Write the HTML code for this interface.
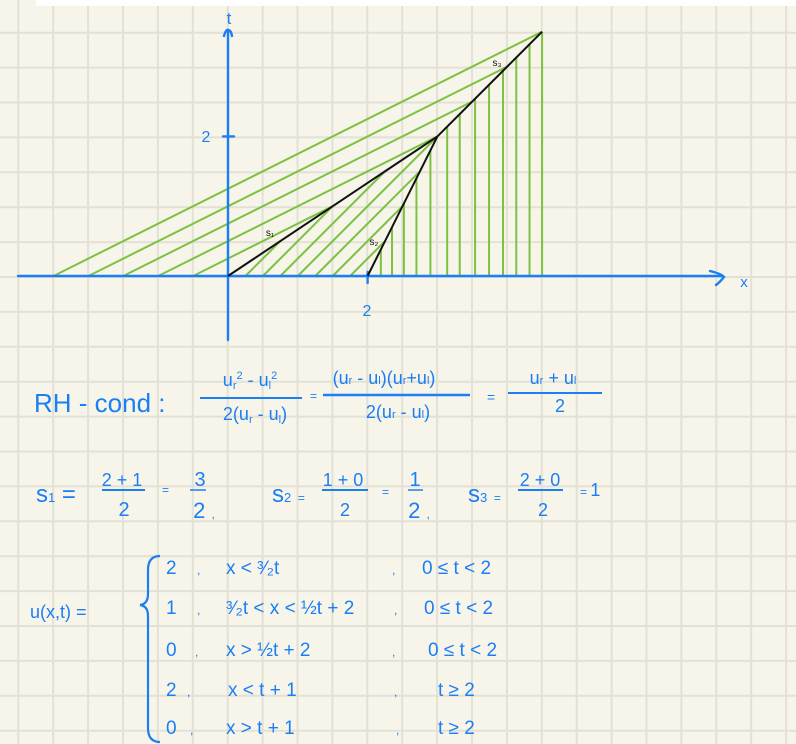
<!DOCTYPE html>
<html><head><meta charset="utf-8"><style>
html,body{margin:0;padding:0;background:#f7f5ea;}
#wrap{position:relative;width:796px;height:744px;overflow:hidden;}
svg text{font-family:"Liberation Sans",sans-serif;fill:#1a7ef5;}
</style></head><body>
<div id="wrap">
<svg id="svg" width="796" height="744" viewBox="0 0 796 744">
<g id="grid"></g>
<rect x="36" y="0" width="760" height="6" fill="#ffffff"/>
<g id="chars"></g>
<g id="axes"></g>
<g id="shocks"></g>
<g id="labels"></g>
<g id="eq" font-size="18">
 <text x="34" y="412" font-size="26">RH - cond :</text>
 <text x="250" y="386" text-anchor="middle">u<tspan font-size="11" dy="3">r</tspan><tspan font-size="11" dy="-10">2</tspan><tspan dy="7"> - u</tspan><tspan font-size="11" dy="3">l</tspan><tspan font-size="11" dy="-10">2</tspan></text>
 <line x1="200" y1="398" x2="302" y2="398" stroke="#1a7ef5" stroke-width="2"/>
 <text x="255" y="420" text-anchor="middle">2(u<tspan font-size="11" dy="3">r</tspan><tspan dy="-3"> - u</tspan><tspan font-size="11" dy="3">l</tspan><tspan dy="-3">)</tspan></text>
 <text x="310" y="400" font-size="12">=</text>
 <text x="384" y="384" text-anchor="middle">(u<tspan font-size="11">r</tspan> - u<tspan font-size="11">l</tspan>)(u<tspan font-size="11">r</tspan>+u<tspan font-size="11">l</tspan>)</text>
 <line x1="323" y1="395" x2="470" y2="395" stroke="#1a7ef5" stroke-width="2.5"/>
 <text x="398" y="418" text-anchor="middle">2(u<tspan font-size="11">r</tspan> - u<tspan font-size="11">l</tspan>)</text>
 <text x="487" y="402" font-size="14">=</text>
 <text x="553" y="384" text-anchor="middle">u<tspan font-size="11">r</tspan> + u<tspan font-size="11">l</tspan></text>
 <line x1="508" y1="393" x2="602" y2="393" stroke="#1a7ef5" stroke-width="2"/>
 <text x="560" y="412" text-anchor="middle">2</text>

 <text x="36" y="502" font-size="24">s<tspan font-size="13">1</tspan> =</text>
 <text x="122" y="486" text-anchor="middle">2 + 1</text>
 <line x1="102" y1="490" x2="145" y2="490" stroke="#1a7ef5" stroke-width="2"/>
 <text x="124" y="516" text-anchor="middle" font-size="20">2</text>
 <text x="162" y="494" font-size="12">=</text>
 <text x="200" y="486" text-anchor="middle" font-size="20">3</text>
 <line x1="190" y1="490" x2="206" y2="490" stroke="#1a7ef5" stroke-width="1.5"/>
 <text x="204" y="518" text-anchor="middle" font-size="22">2 <tspan font-size="12">,</tspan></text>
 <text x="272" y="502" font-size="24">s<tspan font-size="13">2</tspan> <tspan font-size="12">=</tspan></text>
 <text x="343" y="486" text-anchor="middle">1 + 0</text>
 <line x1="322" y1="490" x2="368" y2="490" stroke="#1a7ef5" stroke-width="2"/>
 <text x="345" y="516" text-anchor="middle">2</text>
 <text x="382" y="496" font-size="12">=</text>
 <text x="415" y="486" text-anchor="middle" font-size="20">1</text>
 <line x1="408" y1="490" x2="423" y2="490" stroke="#1a7ef5" stroke-width="1.5"/>
 <text x="419" y="518" text-anchor="middle" font-size="22">2 <tspan font-size="12">,</tspan></text>
 <text x="468" y="502" font-size="24">s<tspan font-size="13">3</tspan> <tspan font-size="12">=</tspan></text>
 <text x="540" y="486" text-anchor="middle">2 + 0</text>
 <line x1="518" y1="490" x2="563" y2="490" stroke="#1a7ef5" stroke-width="2"/>
 <text x="543" y="516" text-anchor="middle">2</text>
 <text x="580" y="496" font-size="12">=  <tspan font-size="18">1</tspan></text>

 <text x="30" y="618">u(x,t) =</text>
 <path d="M160 556 Q148 556 148 570 L148 594 Q148 604 140 605 Q148 606 148 616 L148 728 Q148 742 160 742" fill="none" stroke="#1a7ef5" stroke-width="2.2"/>
 <g font-size="19">
  <text x="166" y="574">2   <tspan x="197" font-size="12">,</tspan><tspan x="226">x &lt; ³⁄₂t</tspan><tspan x="392" font-size="12">,</tspan><tspan x="422">0 ≤ t &lt; 2</tspan></text>
  <text x="166" y="614">1<tspan x="197" font-size="12">,</tspan><tspan x="226">³⁄₂t &lt; x &lt; ½t + 2</tspan><tspan x="394" font-size="12">,</tspan><tspan x="424">0 ≤ t &lt; 2</tspan></text>
  <text x="166" y="656">0<tspan x="195" font-size="12">,</tspan><tspan x="226">x &gt; ½t + 2</tspan><tspan x="392" font-size="12">,</tspan><tspan x="428">0 ≤ t &lt; 2</tspan></text>
  <text x="166" y="696">2<tspan x="187" font-size="12">,</tspan><tspan x="228">x &lt; t + 1</tspan><tspan x="394" font-size="12">,</tspan><tspan x="438">t ≥ 2</tspan></text>
  <text x="166" y="734">0<tspan x="190" font-size="12">,</tspan><tspan x="226">x &gt; t + 1</tspan><tspan x="396" font-size="12">,</tspan><tspan x="438">t ≥ 2</tspan></text>
 </g>
</g>
</svg>
</div>
<script>
// data (in x,t units)
const leftStarts = [-2.5, -2, -1.5, -1, -0.5];     // u=2 characteristics
const fanStarts = [0.25, 0.5, 0.75, 1.0, 1.25, 1.5, 1.75]; // u=1 characteristics
const rightStarts = [2.19, 2.35, 2.52, 2.7, 2.9, 3.14, 3.32, 3.54, 3.74, 3.94, 4.13, 4.32, 4.5]; // u=0
const shockS1 = [[0,0],[3,2]];
const shockS2 = [[2,0],[3,2]];
const shockS3 = [[3,2],[4.5,3.5]];
const tEnd = 3.5;

const NS='http://www.w3.org/2000/svg';
const OX=228, OY=276, SC=69.8;
const X=v=>OX+v*SC, Y=v=>OY-v*SC;
function mk(tag,attrs,parent){const e=document.createElementNS(NS,tag);for(const k in attrs)e.setAttribute(k,attrs[k]);parent.appendChild(e);return e;}

// grid
const g=document.getElementById('grid');
for(let x=18.3-34.9;x<800;x+=34.9){const l=mk('line',{x1:x,y1:0,x2:x,y2:744,stroke:'#e3e1d5','stroke-width':2},g);

}
for(let y=32.7-34.9;y<750;y+=34.9){const l=mk('line',{x1:0,y1:y,x2:796,y2:y,stroke:'#e3e1d5','stroke-width':2},g);

}

// characteristics
const c=document.getElementById('chars');
const green={stroke:'#7cc142','stroke-width':2};
leftStarts.forEach(x0=>{
  let t=-x0*2;
  if(t>2){t=1-x0;}
  if(t>tEnd)t=tEnd;
  const l=mk('line',Object.assign({x1:X(x0),y1:Y(0),x2:X(x0+2*t),y2:Y(t)},green),c);
  
  
});
fanStarts.forEach(x0=>{
  let t = x0<=1 ? 2*x0 : 2*(2-x0);
  const l=mk('line',Object.assign({x1:X(x0),y1:Y(0),x2:X(x0+t),y2:Y(t)},green),c);
  
  
});
rightStarts.forEach(x0=>{
  let t = x0<3 ? 2*(x0-2) : x0-1;
  if(t>tEnd)t=tEnd;
  const l=mk('line',Object.assign({x1:X(x0),y1:Y(0),x2:X(x0),y2:Y(t)},green),c);
  
  
});

// axes
const a=document.getElementById('axes');
const blue={stroke:'#1a7ef5','stroke-width':2.4,fill:'none','stroke-linecap':'round'};
let e;
e=mk('line',Object.assign({x1:18,y1:OY,x2:722,y2:OY},blue),a);


e=mk('path',Object.assign({d:'M710 271 Q722 274 724 277 Q720 282 716 285'},blue),a);


e=mk('line',Object.assign({x1:OX,y1:30,x2:OX,y2:340},blue),a);


e=mk('path',Object.assign({d:'M224 36 Q226 29 228 30 Q231 30 232 36'},blue),a);


e=mk('line',Object.assign({x1:223,y1:Y(2),x2:234,y2:Y(2)},blue),a);


e=mk('line',Object.assign({x1:X(2),y1:272,x2:X(2),y2:283},blue),a);



// shocks
const s=document.getElementById('shocks');
[shockS1,shockS2,shockS3].forEach((sh,i)=>{
  const l=mk('line',{x1:X(sh[0][0]),y1:Y(sh[0][1]),x2:X(sh[1][0]),y2:Y(sh[1][1]),stroke:'#111','stroke-width':2},s);
  
  
});

// labels
const lb=document.getElementById('labels');
function txt(x,y,str,size,color,name){const t=mk('text',{x:x,y:y,'font-size':size,'text-anchor':'middle'},lb);t.textContent=str;if(color)t.style.fill=color;

}
txt(229,24,'t',17,null,'t-axis-title');
txt(744,287,'x',15,null,'x-axis-title');
txt(206,142,'2',16,null,'t-tick-label');
txt(367,316,'2',16,null,'x-tick-label');
txt(270,236,'s₁',10,'#111','s1-label');
txt(374,245,'s₂',10,'#111','s2-label');
txt(497,66,'s₃',10,'#111','s3-label');
</script>
</body></html>
